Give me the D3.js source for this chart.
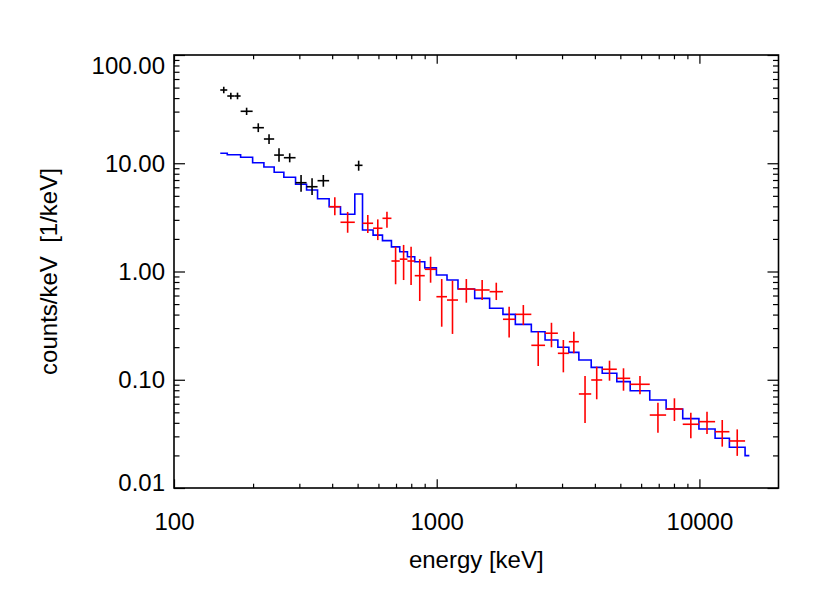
<!DOCTYPE html>
<html>
<head>
<meta charset="utf-8">
<script src="https://cdn.jsdelivr.net/npm/d3@7"></script>
<style>
  html, body { margin: 0; padding: 0; background: #fff; }
  svg { display: block; font-family: "Liberation Sans", Arial, Helvetica, sans-serif; }
</style>
</head>
<body>
<svg id="chart" width="830" height="599"></svg>
<script>
// model spectrum (blue histogram): bin edges [keV] and counts/keV per bin
const modelEdges = [150, 159.5, 179.3, 199.2, 219.9, 240.6, 261.9, 290.2, 319.6, 351.9,
  389.5, 430.3, 487.8, 521.9, 572.6, 621.7, 672.5, 723.4, 773.7, 824.8,
  900.6, 997.4, 1094.5, 1205, 1395, 1590, 1787, 1992, 2292, 2585,
  2892, 3184, 3476, 3874, 4266, 4848, 5451, 6471, 7469, 8640,
  9957, 11473, 13005, 14921, 15491];
const modelValues = [12.36, 12.0, 11.35, 10.12, 9.24, 8.25, 7.42, 6.39, 5.66, 4.70,
  3.97, 3.38, 5.20, 2.42, 2.17, 1.93, 1.69, 1.52, 1.37, 1.23,
  1.08, 0.928, 0.834, 0.689, 0.565, 0.457, 0.402, 0.325, 0.278, 0.233,
  0.1995, 0.179, 0.152, 0.130, 0.1147, 0.096, 0.0792, 0.065, 0.0537, 0.0437,
  0.0351, 0.0288, 0.0238, 0.0199];

// black data points: [E low, E high, value, value low, value high]
const blackPoints = [
  [150, 159.5, 47.5, 44.3, 50.9],
  [159.5, 169.8, 41.8, 39.0, 44.9],
  [169.8, 179.3, 41.8, 39.0, 44.9],
  [179.3, 199.2, 30.2, 27.9, 32.6],
  [199.2, 219.9, 21.3, 19.4, 23.4],
  [219.9, 240.6, 16.75, 15.06, 18.5],
  [240.6, 261.9, 11.9, 10.33, 13.75],
  [261.9, 290.2, 11.25, 10.2, 12.36],
  [290.2, 319.6, 6.61, 5.46, 7.79],
  [319.6, 351.9, 6.07, 5.09, 7.26],
  [351.9, 389.5, 6.90, 6.07, 7.79],
  [487.8, 521.9, 9.57, 8.53, 10.56]
];

// red data points: [E low, E high, value, value low, value high]
const redPoints = [
  [389.5, 430.3, 3.97, 3.31, 4.85],
  [430.3, 487.8, 2.85, 2.28, 3.55],
  [521.9, 572.6, 2.79, 2.27, 3.33],
  [572.6, 621.7, 2.51, 1.95, 3.03],
  [621.7, 672.5, 3.10, 2.54, 3.57],
  [672.5, 723.4, 1.25, 0.762, 1.69],
  [723.4, 773.7, 1.30, 0.834, 1.76],
  [773.7, 824.8, 1.25, 0.750, 1.69],
  [824.8, 900.6, 0.915, 0.534, 1.30],
  [900.6, 997.4, 1.048, 0.788, 1.37],
  [997.4, 1094.5, 0.585, 0.309, 0.852],
  [1094.5, 1205, 0.545, 0.265, 0.822],
  [1205, 1395, 0.689, 0.515, 0.852],
  [1395, 1590, 0.675, 0.545, 0.834],
  [1590, 1787, 0.651, 0.545, 0.788],
  [1787, 1992, 0.362, 0.245, 0.473],
  [1992, 2292, 0.402, 0.320, 0.490],
  [2292, 2585, 0.208, 0.134, 0.278],
  [2585, 2892, 0.269, 0.1995, 0.336],
  [2892, 3184, 0.1755, 0.1171, 0.233],
  [3184, 3476, 0.2246, 0.1755, 0.278],
  [3476, 3874, 0.0739, 0.0398, 0.1083],
  [3874, 4266, 0.0995, 0.0660, 0.132],
  [4266, 4848, 0.125, 0.098, 0.150],
  [4848, 5451, 0.1031, 0.0792, 0.1276],
  [5451, 6471, 0.0908, 0.0734, 0.1083],
  [6471, 7469, 0.0472, 0.0324, 0.0614],
  [7469, 8640, 0.0537, 0.0416, 0.0674],
  [8640, 9957, 0.0388, 0.0288, 0.0496],
  [9957, 11473, 0.0410, 0.0315, 0.0507],
  [11473, 13005, 0.0331, 0.0241, 0.0425],
  [13005, 14921, 0.0272, 0.0198, 0.0348]
];

const xMajor = [100, 1000, 10000];
const xMinor = [200, 300, 400, 500, 600, 700, 800, 900,
  2000, 3000, 4000, 5000, 6000, 7000, 8000, 9000];
const yMajor = [0.01, 0.1, 1, 10, 100];
const yMinor = [];
[0.01, 0.1, 1, 10].forEach(d => {
  for (let k = 2; k <= 9; k++) yMinor.push(+(k * d).toPrecision(3));
});

const svg = d3.select('#chart');
const plotL = 174, plotR = 778.5, plotT = 55, plotB = 488;

const x = d3.scaleLog().domain([100, 20000]).range([plotL, plotR]);
const y = d3.scaleLog().domain([0.01, 100]).range([plotB, plotT]);

const fontSize = 24;
const majX = 8.7, minX = 4.3;   // tick lengths along x axes
const majY = 11, minY = 5.5;    // tick lengths along y axes

function styleAxis(g) {
  g.select('.domain').remove();
  g.selectAll('line').attr('stroke', '#000').attr('stroke-width', 1.2);
  g.selectAll('text').attr('fill', '#000').style('font-size', fontSize + 'px')
    .style('font-family', '"Liberation Sans", Arial, sans-serif');
}

// bottom axis
svg.append('g')
  .attr('transform', `translate(0,${plotB})`)
  .call(d3.axisBottom(x).tickValues(xMajor).tickSize(-majX).tickPadding(25).tickFormat(d3.format('d')))
  .call(styleAxis);
svg.append('g')
  .attr('transform', `translate(0,${plotB})`)
  .call(d3.axisBottom(x).tickValues(xMinor).tickSize(-minX).tickFormat(''))
  .call(styleAxis);
// top axis
svg.append('g')
  .attr('transform', `translate(0,${plotT})`)
  .call(d3.axisTop(x).tickValues(xMajor).tickSize(-majX).tickFormat(''))
  .call(styleAxis);
svg.append('g')
  .attr('transform', `translate(0,${plotT})`)
  .call(d3.axisTop(x).tickValues(xMinor).tickSize(-minX).tickFormat(''))
  .call(styleAxis);

// left axis
const yAxisG = svg.append('g')
  .attr('transform', `translate(${plotL},0)`)
  .call(d3.axisLeft(y).tickValues(yMajor).tickSize(-majY).tickPadding(9).tickFormat(d3.format('.2f')))
  .call(styleAxis);
yAxisG.selectAll('.tick text')
  .attr('dy', d => d === 100 ? '0.78em' : (d === 0.01 ? '0.12em' : '0.34em'));
svg.append('g')
  .attr('transform', `translate(${plotL},0)`)
  .call(d3.axisLeft(y).tickValues(yMinor).tickSize(-minY).tickFormat(''))
  .call(styleAxis);
// right axis
svg.append('g')
  .attr('transform', `translate(${plotR},0)`)
  .call(d3.axisRight(y).tickValues(yMajor).tickSize(-majY).tickFormat(''))
  .call(styleAxis);
svg.append('g')
  .attr('transform', `translate(${plotR},0)`)
  .call(d3.axisRight(y).tickValues(yMinor).tickSize(-minY).tickFormat(''))
  .call(styleAxis);

// frame
svg.append('rect')
  .attr('x', plotL).attr('y', plotT)
  .attr('width', plotR - plotL).attr('height', plotB - plotT)
  .attr('fill', 'none').attr('stroke', '#000').attr('stroke-width', 1.6);

// model histogram
const stepData = modelValues.map((v, i) => [modelEdges[i], v]);
stepData.push([modelEdges[modelEdges.length - 1], modelValues[modelValues.length - 1]]);
svg.append('path')
  .datum(stepData)
  .attr('d', d3.line().x(d => x(d[0])).y(d => y(d[1])).curve(d3.curveStepAfter))
  .attr('fill', 'none')
  .attr('stroke', '#0000ff')
  .attr('stroke-width', 1.6);

// crosses
function drawCrosses(data, color, cls) {
  const g = svg.append('g').attr('class', cls)
    .attr('stroke', color).attr('stroke-width', 1.6).attr('fill', 'none');
  const pts = g.selectAll('g').data(data).join('g');
  pts.append('line')
    .attr('x1', d => x(d[0])).attr('x2', d => x(d[1]))
    .attr('y1', d => y(d[2])).attr('y2', d => y(d[2]));
  pts.append('line')
    .attr('x1', d => x(Math.sqrt(d[0] * d[1]))).attr('x2', d => x(Math.sqrt(d[0] * d[1])))
    .attr('y1', d => y(d[3])).attr('y2', d => y(d[4]));
}
drawCrosses(redPoints, '#ff0000', 'red-points');
drawCrosses(blackPoints, '#000000', 'black-points');

// axis titles
svg.append('text')
  .attr('x', (plotL + plotR) / 2)
  .attr('y', 568)
  .attr('text-anchor', 'middle')
  .style('font-size', fontSize + 'px')
  .text('energy [keV]');

svg.append('text')
  .attr('transform', `translate(57, ${(plotT + plotB) / 2}) rotate(-90)`)
  .attr('text-anchor', 'middle')
  .style('font-size', fontSize + 'px')
  .style('white-space', 'pre')
  .attr('xml:space', 'preserve')
  .text('counts/keV  [1/keV]');
</script>
</body>
</html>
